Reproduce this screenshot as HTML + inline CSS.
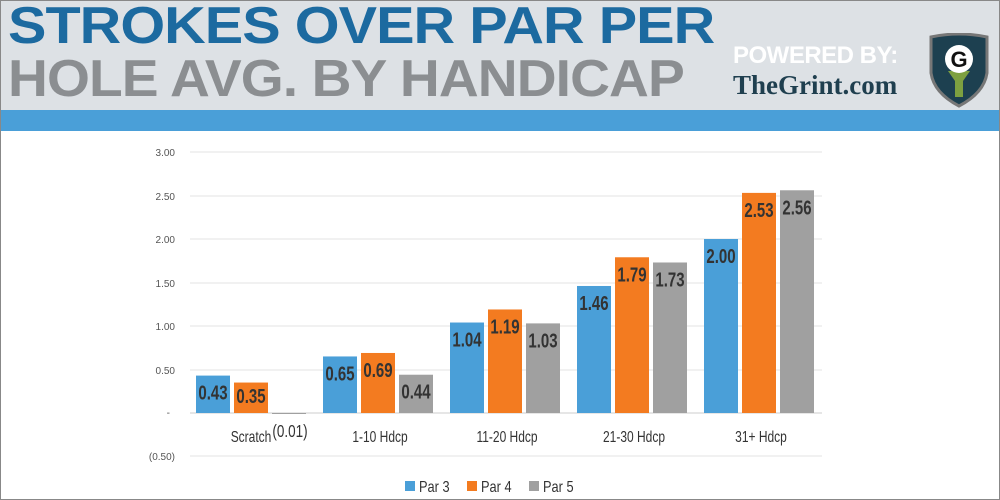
<!DOCTYPE html>
<html><head><style>
body{margin:0;width:1000px;height:500px;overflow:hidden;background:#fff;font-family:"Liberation Sans",sans-serif}
.hdr{position:absolute;left:0;top:0;width:1000px;height:110px;background:#dde1e5}
.stripe{position:absolute;left:0;top:110px;width:1000px;height:21px;background:#4a9fd8}
.t{position:absolute;left:8px;font-weight:bold;font-size:60px;line-height:60px;transform-origin:0 0;white-space:nowrap;letter-spacing:-1px}
.frame{position:absolute;left:0;top:0;width:998px;height:498px;border:1px solid #888}
</style></head><body>
<div class="hdr"></div>
<div class="stripe"></div>
<div class="t" style="top:0px;color:#1c6aa0;transform:scale(0.96,0.86)">STROKES OVER PAR PER</div>
<div class="t" style="top:53px;color:#8b8e91;transform:scale(0.92,0.86)">HOLE AVG. BY HANDICAP</div>
<div style="position:absolute;left:733px;top:42px;color:#fff;font-weight:bold;font-size:24px;letter-spacing:-0.5px">POWERED BY:</div>
<div style="position:absolute;left:733px;top:70px;color:#1f3f4f;font-weight:bold;font-size:27px;font-family:'Liberation Serif',serif">TheGrint.com</div>
<svg style="position:absolute;left:928px;top:33px" width="62" height="75" viewBox="0 0 62 75">
<path d="M3 4 Q31 -2 59 4 L59 40 Q56 60 31 73 Q6 60 3 40 Z" fill="#1d4050" stroke="#777" stroke-width="3"/>
<rect x="27" y="40" width="8" height="24" fill="#7da040"/>
<path d="M20 38 L42 38 L35 48 L27 48Z" fill="#7da040"/>
<circle cx="31" cy="26" r="14" fill="#fff"/>
<text x="31" y="34" text-anchor="middle" font-size="22" font-weight="bold" fill="#111" font-family="Liberation Sans">G</text>
</svg>
<svg style="position:absolute;left:0;top:0" width="1000" height="500" font-family="Liberation Sans" >
<g stroke="#e3e3e3" stroke-width="1">
<line x1="190" x2="822" y1="152" y2="152"/><line x1="190" x2="822" y1="196" y2="196"/>
<line x1="190" x2="822" y1="239" y2="239"/><line x1="190" x2="822" y1="283" y2="283"/>
<line x1="190" x2="822" y1="326" y2="326"/><line x1="190" x2="822" y1="370" y2="370"/>
<line x1="190" x2="822" y1="456" y2="456"/></g>
<line x1="190" x2="822" y1="413" y2="413" stroke="#ccc"/>
<g font-size="10" fill="#555" text-anchor="end">
<text x="175" y="156">3.00</text><text x="175" y="200">2.50</text><text x="175" y="243">2.00</text>
<text x="175" y="287">1.50</text><text x="175" y="330">1.00</text><text x="175" y="374">0.50</text>
<text x="170" y="416">-</text><text x="175" y="460">(0.50)</text></g>
<g id="bars"></g>
<g font-size="16" fill="#333" text-anchor="middle">
<text transform="translate(251 442) scale(0.75,1)">Scratch</text>
<text transform="translate(380 442) scale(0.75,1)">1-10 Hdcp</text>
<text transform="translate(507 442) scale(0.75,1)">11-20 Hdcp</text>
<text transform="translate(634 442) scale(0.75,1)">21-30 Hdcp</text>
<text transform="translate(761 442) scale(0.75,1)">31+ Hdcp</text></g>
<text transform="translate(290 437) scale(0.75,1)" font-size="18" fill="#333" text-anchor="middle">(0.01)</text>
<g font-size="16" fill="#333">
<rect x="405" y="481" width="10" height="10" fill="#4a9fd8"/><text transform="translate(419 492) scale(0.8,1)">Par 3</text>
<rect x="467" y="481" width="10" height="10" fill="#f37b20"/><text transform="translate(481 492) scale(0.8,1)">Par 4</text>
<rect x="529" y="481" width="10" height="10" fill="#a0a0a0"/><text transform="translate(543 492) scale(0.8,1)">Par 5</text>
</g>
</svg>
<div class="frame"></div>
<script>
var d=[[0.43,0.35,-0.01],[0.65,0.69,0.44],[1.04,1.19,1.03],[1.46,1.79,1.73],[2.00,2.53,2.56]];
var c=["#4a9fd8","#f37b20","#a0a0a0"],g=document.getElementById('bars'),s='';
for(var i=0;i<5;i++)for(var j=0;j<3;j++){var v=d[i][j],x=196+i*127+j*38,h=v*87,y=413-h;
if(v<0){s+='<rect x="'+x+'" y="413" width="34" height="1" fill="'+c[j]+'"/>';continue;}
s+='<rect x="'+x+'" y="'+y+'" width="34" height="'+h+'" fill="'+c[j]+'"/>';
var ty=Math.min(y+24,403);
s+='<text transform="translate('+(x+17)+' '+ty+') scale(0.75,1)" text-anchor="middle" font-size="20" font-weight="bold" fill="#333">'+v.toFixed(2)+'</text>';}
g.innerHTML=s;
</script>
</body></html>
